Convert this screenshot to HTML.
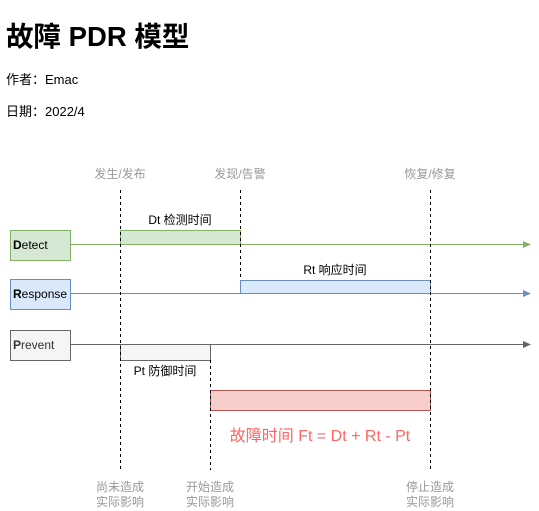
<!DOCTYPE html>
<html><head><meta charset="utf-8"><style>
html,body{margin:0;padding:0;background:#fff;width:539px;height:511px;overflow:hidden}
svg text{font-family:"Liberation Sans","Noto Sans CJK SC",sans-serif}
</style></head><body>
<svg width="539" height="511" viewBox="0 0 539 511" xmlns="http://www.w3.org/2000/svg">
<text x="6" y="46" font-size="27.5" font-weight="bold" fill="#000">故障 PDR 模型</text>
<text x="6" y="84" font-size="13" fill="#000">作者：Emac</text>
<text x="6" y="116" font-size="13" fill="#000">日期：2022/4</text>
<g font-size="12" fill="#999" text-anchor="middle">
<text x="120" y="178">发生/发布</text>
<text x="240" y="178">发现/告警</text>
<text x="430" y="178">恢复/修复</text>
<text x="120" y="491">尚未造成</text><text x="120" y="506">实际影响</text>
<text x="210" y="491">开始造成</text><text x="210" y="506">实际影响</text>
<text x="430" y="491">停止造成</text><text x="430" y="506">实际影响</text>
</g>
<rect x="120.5" y="230.5" width="120" height="14" fill="#d5e8d4" stroke="#82b366"/>
<rect x="240.5" y="280.5" width="190" height="13" fill="#dae8fc" stroke="#6c8ebf"/>
<rect x="120.5" y="344.5" width="90" height="16" fill="#f5f5f5" stroke="#666"/>
<rect x="210.5" y="390.5" width="220" height="20" fill="#f8cecc" stroke="#b85450"/>
<line x1="71" y1="244.5" x2="526" y2="244.5" stroke="#82b366"/>
<polygon points="531,244.5 523,241 523,248" fill="#82b366"/>
<line x1="71" y1="293.5" x2="526" y2="293.5" stroke="#6c8ebf"/>
<polygon points="531,293.5 523,290 523,297" fill="#6c8ebf"/>
<line x1="71" y1="344.5" x2="526" y2="344.5" stroke="#666"/>
<polygon points="531,344.5 523,341 523,348" fill="#666"/>
<g stroke="#000" stroke-dasharray="3,3">
<line x1="120.5" y1="190" x2="120.5" y2="470"/>
<line x1="240.5" y1="190" x2="240.5" y2="280"/>
<line x1="430.5" y1="190" x2="430.5" y2="470"/>
<line x1="210.5" y1="360" x2="210.5" y2="470"/>
</g>
<rect x="10.5" y="230.5" width="60" height="30" fill="#d5e8d4" stroke="#82b366"/>
<rect x="10.5" y="279.5" width="60" height="30" fill="#dae8fc" stroke="#6c8ebf"/>
<rect x="10.5" y="330.5" width="60" height="30" fill="#f5f5f5" stroke="#666"/>
<g font-size="12" fill="#000">
<text x="13" y="249"><tspan font-weight="bold">D</tspan>etect</text>
<text x="13" y="298"><tspan font-weight="bold">R</tspan>esponse</text>
<text x="13" y="349" fill="#333"><tspan font-weight="bold">P</tspan>revent</text>
<text x="180" y="224" text-anchor="middle">Dt 检测时间</text>
<text x="335" y="274" text-anchor="middle">Rt 响应时间</text>
<text x="165" y="375" text-anchor="middle">Pt 防御时间</text>
</g>
<text x="320" y="441" font-size="16" fill="#ff6666" text-anchor="middle">故障时间 Ft = Dt + Rt - Pt</text>
</svg>
</body></html>
